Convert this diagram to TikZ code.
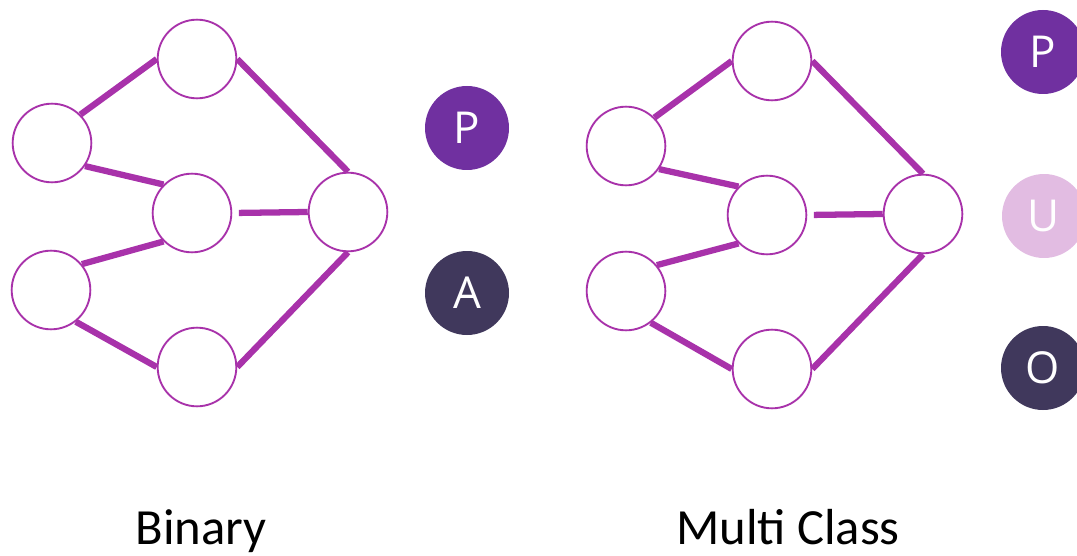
\documentclass[tikz,border=0pt]{standalone}
\usepackage{fontspec}
\setmainfont{Carlito}
\newfontfamily\letterfont{Open Sans}
\definecolor{edgec}{RGB}{168,50,170}
\definecolor{pcol}{RGB}{112,48,160}
\definecolor{dcol}{RGB}{64,56,92}
\definecolor{ucol}{RGB}{226,188,226}
\begin{document}
\begin{tikzpicture}[x=0.75pt,y=-0.75pt,
  neuron/.style={circle,draw=edgec,line width=1.4pt,fill=white,minimum size=59pt,inner sep=0pt},
  conn/.style={draw=edgec,line width=4.7pt},
  cls/.style={circle,minimum size=63pt,inner sep=0pt,text=white,font=\letterfont\fontsize{33}{33}\selectfont},
  lbl/.style={font=\fontsize{38}{38}\selectfont,anchor=base,inner sep=0pt}]
\useasboundingbox (0,0) rectangle (1077,556);
\clip (0,0) rectangle (1077,556);
% Binary network
\node[neuron] (bl1) at (52,143) {};
\node[neuron] (bl2) at (51,290) {};
\node[neuron] (btop) at (197,59) {};
\node[neuron] (bmid) at (192,213) {};
\node[neuron] (bbot) at (197,367) {};
\node[neuron] (bout) at (348,212) {};
\draw[conn] (bl1.45) -- (btop.west);
\draw[conn] (bl1.-35) -- (bmid.135);
\draw[conn] (bl2.40) -- (bmid.225);
\draw[conn] (bl2.-52) -- (bbot.west);
\draw[conn] (btop.east) -- (bout.north);
\draw[conn] (bbot.east) -- (bout.south);
\draw[conn,shorten <=5pt] (bmid.east) -- (bout.west);
\node[cls,fill=pcol] (bp) at (467,128) {P};
\node[cls,fill=dcol] (ba) at (467,293) {A};
\node[lbl] (blbl) at (201,544) {Binary};
% Multi class network
\node[neuron] (ml1) at (626,146) {};
\node[neuron] (ml2) at (626,291) {};
\node[neuron] (mtop) at (772,61) {};
\node[neuron] (mmid) at (767,215) {};
\node[neuron] (mbot) at (772,369) {};
\node[neuron] (mout) at (923,214) {};
\draw[conn] (ml1.45) -- (mtop.west);
\draw[conn] (ml1.-35) -- (mmid.135);
\draw[conn] (ml2.40) -- (mmid.225);
\draw[conn] (ml2.-52) -- (mbot.west);
\draw[conn] (mtop.east) -- (mout.north);
\draw[conn] (mbot.east) -- (mout.south);
\draw[conn,shorten <=5pt] (mmid.east) -- (mout.west);
\node[cls,fill=pcol] (mp) at (1043,52) {P};
\node[cls,fill=ucol] (mu) at (1044,216) {U};
\node[cls,fill=dcol] (mo) at (1043,368) {O};
\node[lbl] (mlbl) at (788,544) {Multi Class};
\end{tikzpicture}
\end{document}
